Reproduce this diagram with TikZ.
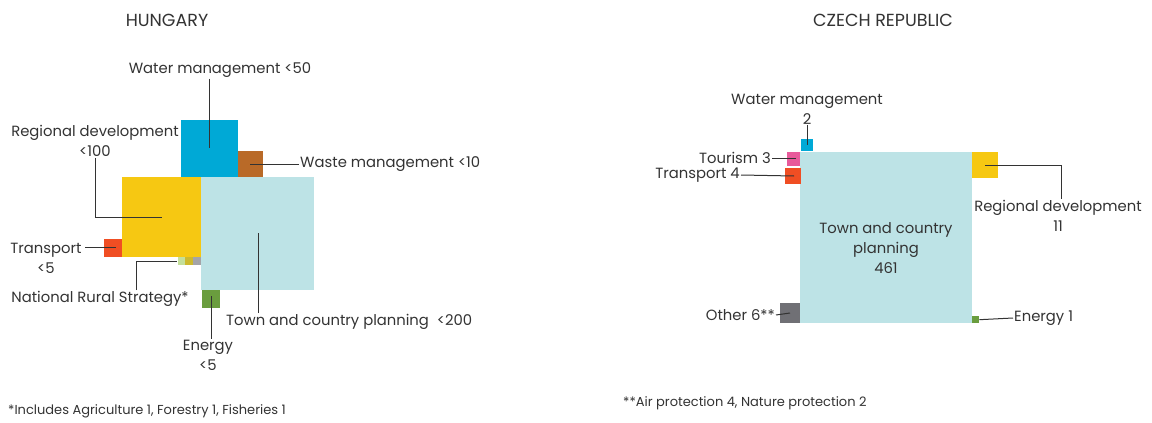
\documentclass[tikz,border=0pt]{standalone}
\usepackage{fontspec}
\setmainfont{Poppins}
\usetikzlibrary{positioning, calc}

\definecolor{wmblue}{HTML}{00A9D6}
\definecolor{wastebrown}{HTML}{B96A28}
\definecolor{regyellow}{HTML}{F6C812}
\definecolor{towncyan}{HTML}{BDE3E6}
\definecolor{transred}{HTML}{F04E23}
\definecolor{agrigreen}{HTML}{C4DF9B}
\definecolor{forolive}{HTML}{CDB92E}
\definecolor{fishgray}{HTML}{A4A4A8}
\definecolor{energygreen}{HTML}{6A9D3E}
\definecolor{tourpink}{HTML}{E85A9B}
\definecolor{othergray}{HTML}{707075}
\definecolor{txtgray}{HTML}{333333}

\tikzstyle{lead} = [draw=txtgray, line width=1pt]

\begin{document}
\begin{tikzpicture}[x=1pt, y=-1pt,
box/.style={
    rectangle,
    inner sep = 0pt,
    anchor = north west
    },
lbl/.style={
    text = txtgray,
    font = \fontsize{14.8}{20}\selectfont,
    inner sep = 1pt,
    align = center
    },
title/.style={
    text = txtgray,
    font = \fontsize{17.5}{20}\selectfont
    },
note/.style={
    text = txtgray,
    font = \fontsize{13}{15}\selectfont,
    inner sep = 1pt,
    anchor = west
    }
]
\useasboundingbox (0,0) rectangle (1152,423);

% Hungary
\node [title] (htitle) at (167,20) {HUNGARY};

\node [box, fill=wmblue, minimum width=57pt, minimum height=57pt] (hwater) at (181,120) {};
\node [box, fill=wastebrown, minimum width=25pt, minimum height=26pt] (hwaste) at (238,151) {};
\node [box, fill=regyellow, minimum width=79pt, minimum height=80pt] (hreg) at (122,177) {};
\node [box, fill=towncyan, minimum width=113pt, minimum height=113pt] (htown) at (201,177) {};
\node [box, fill=transred, minimum width=18pt, minimum height=18pt] (htrans) at (104,239) {};
\node [box, fill=agrigreen, minimum width=7pt, minimum height=8pt] (hagri) at (178,257) {};
\node [box, fill=forolive, minimum width=8pt, minimum height=8pt] (hfor) at (185,257) {};
\node [box, fill=fishgray, minimum width=8pt, minimum height=8pt] (hfish) at (193,257) {};
\node [box, fill=energygreen, minimum width=18pt, minimum height=18pt] (henergy) at (202,290) {};

\node [lbl] (hwaterlab) at (220,70) {Water management <50};
\node [lbl] (hreglab) at (95,141) {Regional development\\<100};
\node [lbl, anchor=west] (hwastelab) at (299,164) {Waste management <10};
\node [lbl] (htranslab) at (46,258) {Transport\\<5};
\node [lbl] (hnrslab) at (100,299) {National Rural Strategy*};
\node [lbl, anchor=west] (htownlab) at (225,322) {Town and country planning\ \ <200};
\node [lbl] (henergylab) at (208,355) {Energy\\<5};
\node [note] (hnote) at (7,411) {*Includes Agriculture 1, Forestry 1, Fisheries 1};

\coordinate (hwaterend) at (209,148);
\coordinate (hwasteend) at (250,164);
\coordinate (hregend) at (162,217);
\coordinate (htransend) at (116,247);
\coordinate (hnrsend) at (177,261);
\coordinate (htownend) at (258,233);
\coordinate (henergyend) at (211,296);

\draw[lead] (hwaterlab.south -| hwaterend) -- (hwaterend);
\draw[lead] (hwastelab.west) -- (hwasteend);
\draw[lead] (hreglab.south) |- (hregend);
\draw[lead] (85,247) -- (htransend);
\draw[lead] (hnrslab.north -| 136,0) |- (hnrsend);
\draw[lead] (htownlab.north -| htownend) -- (htownend);
\draw[lead] (henergylab.north -| henergyend) -- (henergyend);

% Czech Republic
\node [title] (ctitle) at (883,20) {CZECH REPUBLIC};

\node [box, fill=towncyan, minimum width=172pt, minimum height=171pt] (ctown) at (800,152) {};
\node [box, fill=wmblue, minimum width=12pt, minimum height=12pt] (cwater) at (801,139) {};
\node [box, fill=tourpink, minimum width=13pt, minimum height=14pt] (ctour) at (787,152) {};
\node [box, fill=transred, minimum width=16pt, minimum height=16pt] (ctrans) at (785,168) {};
\node [box, fill=regyellow, minimum width=26pt, minimum height=26pt] (creg) at (972,152) {};
\node [box, fill=othergray, minimum width=20pt, minimum height=20pt] (cother) at (780,303) {};
\node [box, fill=energygreen, minimum width=7pt, minimum height=7pt] (cenergy) at (972,316) {};

\node [lbl] (cwaterlab) at (807,109) {Water management\\2};
\node [lbl, anchor=east] (ctourlab) at (772,158) {Tourism 3};
\node [lbl, anchor=east] (ctranslab) at (741,175) {Transport 4};
\node [lbl] (ctownlab) at (886,248) {Town and country\\planning\\461};
\node [lbl] (creglab) at (1058,216) {Regional development\\11};
\node [lbl, anchor=east] (cotherlab) at (776,315) {Other 6**};
\node [lbl, anchor=west] (cenergylab) at (1013,318) {Energy 1};
\node [note] (cnote) at (622,403) {**Air protection 4, Nature protection 2};

\coordinate (cwaterend) at (807,145);
\coordinate (ctourend) at (796,158);
\coordinate (ctransend) at (794,176);
\coordinate (cregend) at (985,165);
\coordinate (cotherend) at (790,313);

\draw[lead] (cwaterlab.south -| cwaterend) -- (cwaterend);
\draw[lead] (ctourlab.east) -- (ctourend);
\draw[lead] (ctranslab.east) -- (ctransend);
\draw[lead] (cregend) -| (creglab.north -| 1061,0);
\draw[lead] (cotherlab.east) -- (cotherend);
\draw[lead] (cenergy.east) -- (cenergylab.west);

\end{tikzpicture}
\end{document}
